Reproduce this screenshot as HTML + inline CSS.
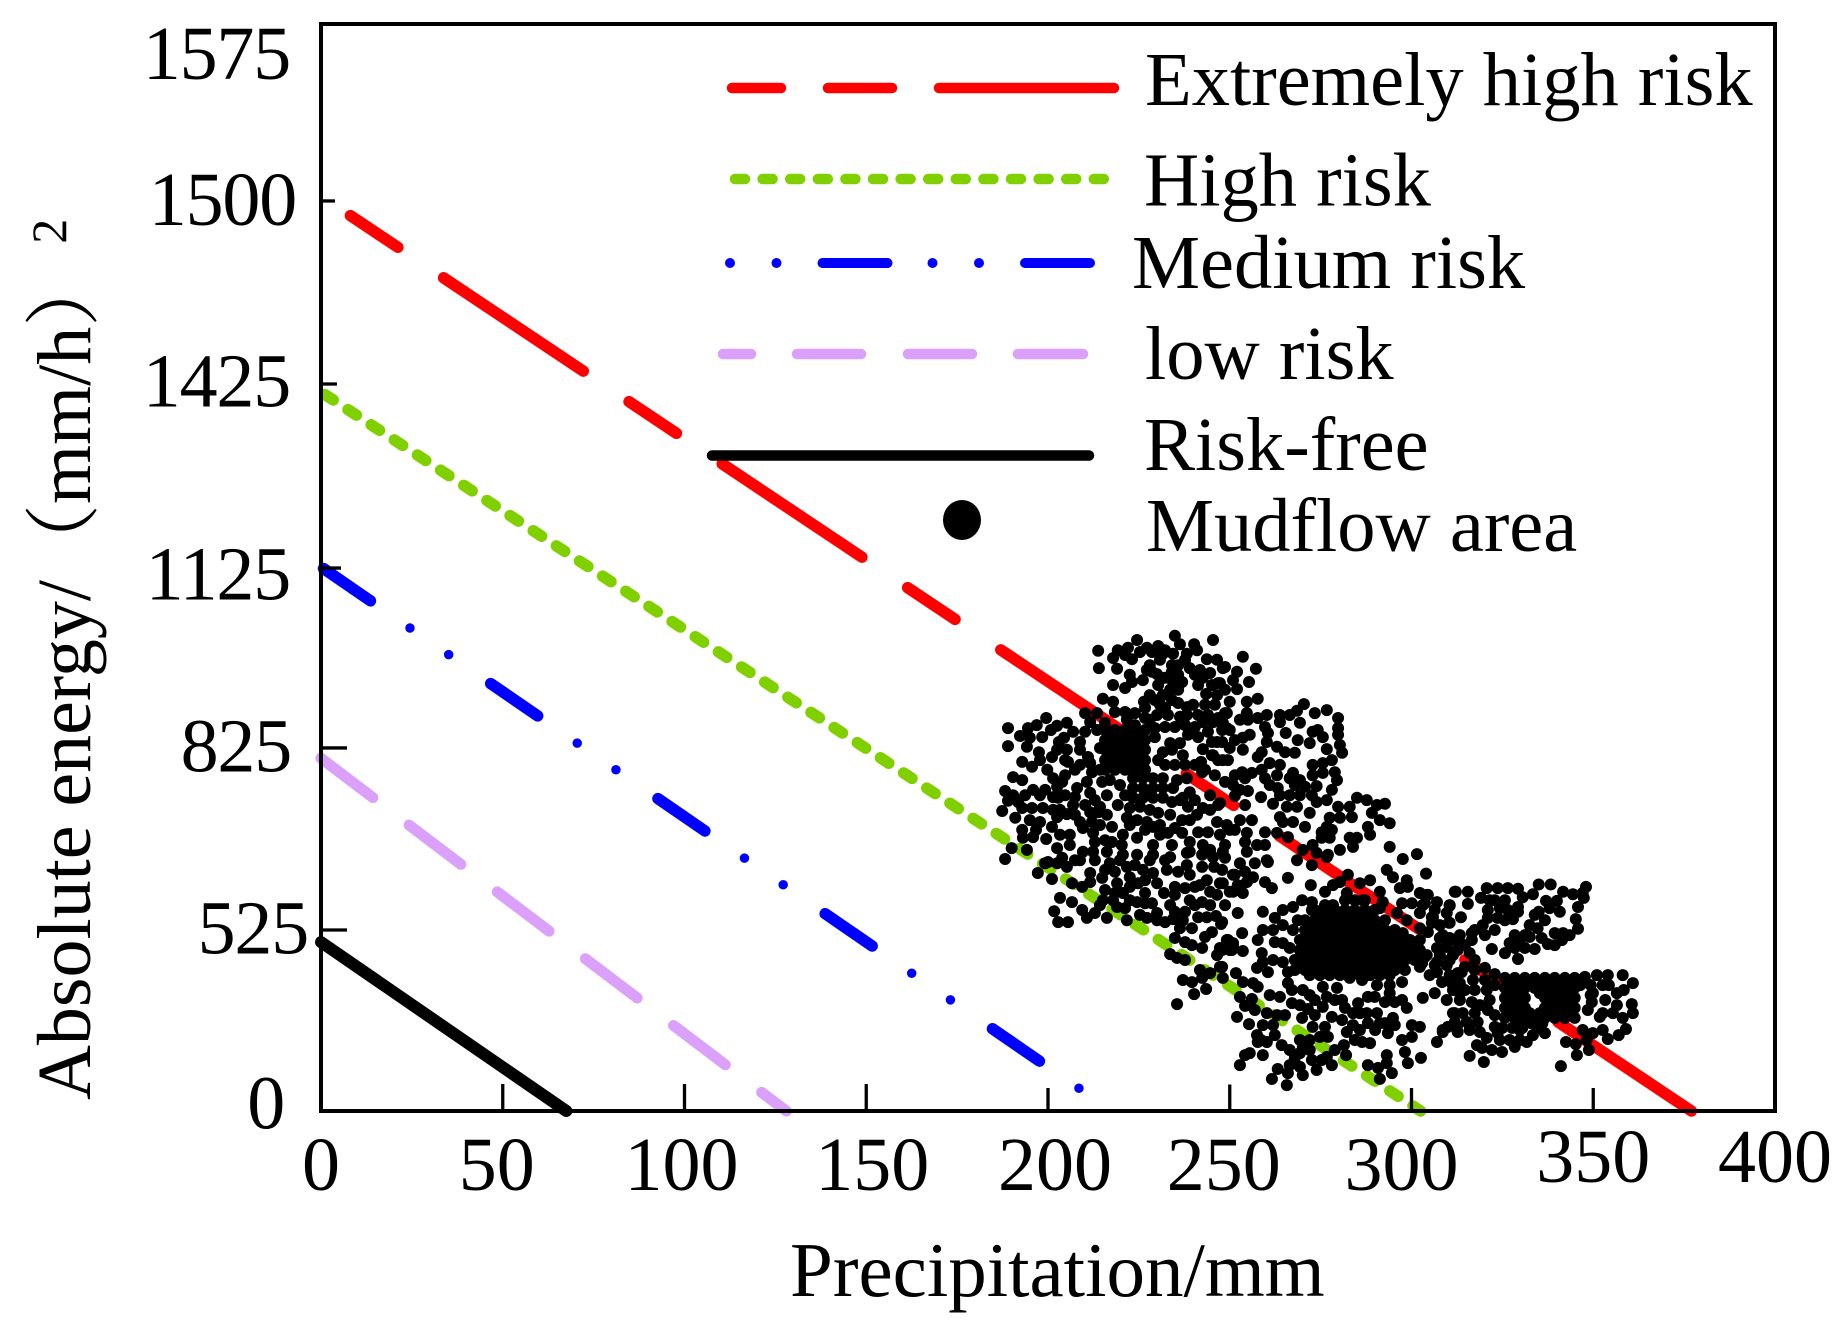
<!DOCTYPE html>
<html lang="en">
<head>
<meta charset="utf-8">
<title>Precipitation and absolute energy risk chart</title>
<style>
html,body{margin:0;padding:0;background:#fff;}
svg{display:block;}
text{font-family:"Liberation Serif","Noto Serif CJK SC",serif;fill:#000;}
</style>
</head>
<body>
<svg id="chart" xmlns="http://www.w3.org/2000/svg" width="1844" height="1338" viewBox="0 0 1844 1338">
  <rect x="0" y="0" width="1844" height="1338" fill="#fff"/>
  <g id="series-layer"></g>
  <g id="legend">
    <line x1="732" y1="88" x2="1114" y2="88" stroke="#ff0000" stroke-width="10.5" stroke-linecap="round" stroke-dasharray="49 47 64 47 175"/>
    <line x1="735" y1="179" x2="1105" y2="179" stroke="#80d000" stroke-width="10.5" stroke-linecap="round" stroke-dasharray="10 17.6"/>
    <line x1="730" y1="263" x2="1091" y2="263" stroke="#0000ff" stroke-width="10" stroke-linecap="round" stroke-dasharray="0 46.5 0 46 65 45"/>
    <line x1="723" y1="354" x2="1083" y2="354" stroke="#daa0fa" stroke-width="10.5" stroke-linecap="round" stroke-dasharray="28 46 64 47 64 46 65"/>
    <line x1="712" y1="455.5" x2="1089" y2="455.5" stroke="#000" stroke-width="10.5" stroke-linecap="round"/>
    <ellipse cx="962" cy="520" rx="19" ry="20" fill="#000"/>
    <text x="1145" y="105" font-size="76.5">Extremely high risk</text>
    <text x="1144" y="205.5" font-size="76.5">High risk</text>
    <text x="1132" y="288" font-size="76.5">Medium risk</text>
    <text x="1145" y="379" font-size="76.5">low risk</text>
    <text x="1144" y="470" font-size="76.5">Risk-free</text>
    <text x="1146" y="551" font-size="76.5">Mudflow area</text>
  </g>
  <g id="scatter-layer" fill="#000"></g>
  <g id="axis-layer">
    <rect x="321" y="24" width="1454" height="1087" fill="none" stroke="#000" stroke-width="4"/>
  </g>
  <text x="790" y="1296" font-size="77">Precipitation/mm</text>
  <text transform="translate(90,1100) rotate(-90)" font-size="76">Absolute energy/（mm/h）<tspan dx="7" dy="-24" font-size="50">2</tspan></text>
</svg>
<script>
const xTickValues = [0, 50, 100, 150, 200, 250, 300, 350, 400];
const yTickValues = [0, 525, 825, 1125, 1425, 1500, 1575];

const extremeRiskPrecip = [8.1, 377];
const extremeRiskEnergy = [1494, 0];
const highRiskPrecip = [0, 302.5];
const highRiskEnergy = [1412, 0];
const mediumRiskPrecip = [0, 217.6];
const mediumRiskEnergy = [1127, 0];
const lowRiskPrecip = [0, 128];
const lowRiskEnergy = [808, 0];
const riskFreePrecip = [0, 67.5];
const riskFreeEnergy = [490, 0];

const mudflowPoints = [
[213.8,987],[214,958],[217.9,975],[219.2,988],[222,992],[224.5,1005],[223.1,973],[219,957],[227.2,992],[230.3,995],[234.9,1012],[236.3,998],[240.2,998],[241,988],[245.4,1005],[231.6,982],[234.4,982],[238.2,982],[243.7,973],[246.5,972],
[228,963],[227.2,955],[234.1,963],[234.1,952],[230,948],[226.1,938],[222.5,947],[223.1,935],[217.9,930],[221.2,925],[230.3,930],[234.4,935],[236.9,935],[233.6,922],[231.6,913],[239,958],[241.8,955],[244.6,950],[248.1,958],[241.3,930],[242.6,942],[247.3,933],[246.5,913],[243.5,915],
[215.1,907],[217.9,902],[226.4,902],[229.4,905],[226.7,892],[235.8,900],[239.9,897],[238.2,893],[232.2,892],[233,880],[221.2,885],[221.7,872],[223.9,883],[226.7,875],[236.3,877],[238.2,880],[241.3,880],[210.2,883],[213.5,883],[211.6,868],[215.7,867],[232.2,860],[234.9,860],[228,872],[242.6,868],[245.4,868],[244,852],[248.7,883],[249.2,858],
[221.2,980],[225.3,985],[228.6,985],[232.2,988],[237.7,972],[235.8,963],[230.8,972],[228.6,952],[232.2,942],[235.8,947],[235.8,922],[240.4,947],[245.1,930],[248.7,922],[228,913],[230.8,897],[234.1,905],[243.2,897],[245.9,897],[244,880],[230,880],[223.9,863],[218.4,885],[229.4,858],[237.7,863],[240.4,860],[246.8,875],
[189,858],[194.5,858],[192.3,845],[196.9,863],[199.5,875],[202.5,862],[205.2,867],[198.4,843],[189,828],[194.2,827],[203,835],[202.5,822],[205.2,822],[197.5,818],[197.8,805],[201.1,810],[205.5,802],[192.9,802],[195.6,794],[206.9,852],[210.2,852],[213.5,855],[208.8,835],[208.8,822],[211,810],[211.6,800],
[200.8,855],[195,842],[204.4,842],[204.7,805],[199.8,789],[207.4,789],[208.8,797],[212.1,785],[203.9,769],[197.8,747],[193.7,747],[190.4,747],[204.7,747],[212.9,739],[214.3,728],[221.2,747],[219.8,764],[217,772],[203.3,723],[207.4,715],[211.6,719],[196.7,690],[203.3,682],[214.3,698],[215.7,673],[222.5,698],[226.7,690],[230.8,698],[230.8,682],[236.3,739],[240.4,739],[244.6,747],[244.6,723],[239,706],[233.6,715],[226.7,747],[228,723],[243.2,789],[245.9,780],[240.4,797],[237.7,797],[234.9,797],[232.2,797],[251.4,780],[252.8,756],[254.2,731],[252.8,706],[251.4,690],[248.7,665],[244.6,657],
[229.4,843],[233.6,833],[236.3,833],[238.5,847],[241.3,843],[231.6,818],[230.3,805],[237.1,813],[242.6,823],[246.5,835],[245.4,813],[248.1,805],[242.1,802],[242.4,785],[214.3,825],[214.3,789],[234.1,822],
[190.4,777],[192.9,772],[188.2,754],[201.4,775],[202.5,761],[204.7,780],[208,759],[207.4,744],[210.7,769],[214.9,769],[195.9,756],[199.2,756],[201.4,744],[211.6,751],[216.2,747],[189,738],[191.8,736],[202.8,743],[206.9,731],[210.2,731],[238.2,775],[235.5,772],[234.4,759],[237.1,743],[239,752],[238.5,728],[234.1,736],[247.3,734],[248.7,769],
[187.4,721],[191,710],[192.9,726],[195.6,726],[198.6,726],[201.4,723],[205.2,716],[202.5,711],[213.8,719],[216.2,715],[195,706],[197.8,703],[208.8,703],[212.1,703],[217.6,695],[219.2,731],[222.5,726],[225.3,728],[221.7,710],[224.5,706],[227.2,703],[230.3,718],[228.9,695],[242.6,726],[241,715],[236.9,706],[234.9,693],[246.5,703],[249.2,698],
[192.9,690],[193.1,677],[195.9,678],[201.1,695],[199.5,675],[206,682],[209.6,693],[212.4,685],[212.9,670],[220.6,682],[224.5,677],[217.6,670],[220.3,665],[233,685],[234.1,665],[236.9,685],[239,670],[241.3,686],[244,686],[247.3,682],[242.6,665],
[190,660],[194.2,657],[188.2,642],[202.5,660],[206,665],[209.6,654],[203.9,644],[200,637],[212.4,654],[216.2,654],[220.6,649],[224.5,649],[228.9,665],[228.9,649],[233.6,645],[239,654],[245.4,645],[248.1,654],
[215.7,855],[218.4,855],[221.2,855],[223.9,855],[226.7,855],[215.7,838],[218.4,838],[221.2,838],[223.9,838],[226.7,838],[215.7,822],[218.4,822],[221.2,822],[223.9,822],[226.7,822],[215.7,805],[218.4,805],[221.2,805],[223.9,805],[226.7,805],[215.7,789],[218.4,789],[221.2,789],[223.9,789],[226.7,789],
[217,847],[219.8,847],[222.5,847],[225.3,847],[217,830],[219.8,830],[222.5,830],[225.3,830],[217,813],[219.8,813],[222.5,813],[225.3,813],[217,797],[219.8,797],[222.5,797],[225.3,797],
[223.4,775],[226.1,775],[228.9,775],[231.6,775],[223.4,759],[226.1,759],[228.9,759],[231.6,759],[223.4,743],[226.1,743],[228.9,743],[231.6,743],
[253.6,977],[257.2,957],[248.7,960],[252,952],[250.9,938],[255.3,935],[252,923],[246.8,933],[257.7,907],[250,902],[254.7,902],[249.2,883],[248.1,867],[254.7,883],[252.8,872],[255,872],[250,855],[247.9,855],
[270.4,898],[260.2,880],[257.7,875],[259.7,860],[260.5,850],[263.8,880],[263.8,868],[266.5,880],[268.5,887],[273.4,883],[276.7,888],[279.8,875],[269.3,867],[265.4,850],[279.8,858],[279.8,847],[274.2,855],[275.6,843],[272.8,852],[268.7,838],[272,833],[255.5,847],[253.6,842],[280.3,830],[276.7,823],[280.9,817],[251.4,838],[250,825],[253.6,822],[260.2,835],[263,827],[265.2,818],[267.9,817],[258.8,818],[257.7,810],[245.1,835],[247.9,835],[245.1,813],[246.8,805],[249.5,805],
[278.1,805],[275.6,800],[272.8,797],[261,800],[263.8,797],[258.8,789],[259.7,775],[263,780],[253.4,785],[256.1,784],[254.2,775],[267.4,784],[266.5,775],[269.3,772],[272.8,780],[275.6,784],[278.9,785],[279.5,772],[278.1,756],
[250.9,764],[261,764],[263.2,759],[267.9,764],[270.7,761],[273.9,762],[255,754],[251.4,746],[258.6,744],[263.8,747],[266.5,747],[269.3,747],[272.6,747],[273.9,736],[276.7,739],[285,743],[287.7,739],[261.9,733],[246.8,731],[279.8,728],[283,728],[290.5,731],[292.7,733],[265.7,728],[268.5,728],[289.1,718],[272,718],[277.5,710],[280.3,710],[283.6,711],[263.8,711],[264.6,703],[267.4,703],[291.3,706],[294,701],[256.1,706],[276.7,695],[278.1,690],[270.7,695],[288,695],[288.6,682],[275.3,686],[283,677],[285,677],[283.9,662],[259.7,686],[263,685],[266,678],[254.7,685],[254.2,670],[254.7,654],[275.3,677],[277.5,677],[257.5,665],[259.7,665],[272.8,665],[270.1,657],[250,690],[280.3,657],[277,649],[294,662],[273.9,652],[268.5,640],[260.2,640],
[248.7,644],[252.8,635],[256.9,635],[260.5,637],[251.4,616],[254.2,621],[256.4,612],[266,611],[259.7,604],[261.6,594],[248.1,602],[250.9,588],[253.6,586],[272.3,599],[272.6,632],[276.7,645],[282.5,616],[280.3,604],[278.4,599],[276.2,588],[285.8,602],[288.6,607],[293.2,624],[294.9,612],[298.7,607],[299,596],[296.8,594],[304,618],[297.6,642],[301.5,650],[311.9,588],[302.3,586],[304.5,583],[307,571],[310.5,566],[252.2,553],[259.1,555],[269.9,574],[272.6,571],[272.6,558],[264.6,558],[267.4,563],[276.2,566],[278.4,566],[282.2,586],[286.6,574],[292.1,571],[291.3,588],[291.3,561],[297.4,569],[300.1,569],[303.1,566],[296,553],[298.7,541],[305.6,546],[310.5,537],[302.3,528],[304.5,519],[262.4,545],[264.6,533],[268.7,541],[297.6,516],[247.9,538],[259.1,525],[257.7,496],[261.9,525],[267.4,525],[253.4,516],[249.2,496],[250.9,487],[262.4,490],[264.6,487],[266.5,473],[308.6,510],[310.5,502],[247.9,467],[250.6,467],[253.6,464],[258.8,458],[259.1,432],[261.9,438],[264.6,432],[307,473],[309.7,476],[304.2,452],[307,432],[309.7,423],[257.5,415],[260.5,403],[266,403],[247.9,418],[248.1,386],[307,403],[302.3,418],[253.6,374],[256.4,371],[257.7,360],[266,371],[267.1,351],[283,386],[286.4,380],[297.4,374],[290.5,365],[294,365],[308.4,374],[311.1,371],[313.3,371],[270.1,351],[272,336],[275.6,360],[279.5,357],[261,336],[263.8,331],[267.1,313],[252.8,331],[256.1,325],[276.7,331],[278.9,322],[288,331],[289.9,331],[294,342],[292.7,316],[295.4,316],[297.4,322],[298.7,299],[303.1,328],[306.4,342],[309.7,322],[313.3,342],[254.2,305],[256.9,293],[271.5,296],[275.6,302],[280.9,322],[285.3,313],[283.9,284],[287.7,284],[290.5,284],[311.9,284],[260.2,284],[263,278],[265.2,278],[252,273],[278.1,273],[280.9,264],[283.9,249],[294.9,270],[292.7,255],[312.5,244],[255.3,252],[259.1,249],[261.9,249],[269.9,270],[272.8,244],[276.2,244],[288,255],[291.3,255],[300.1,249],[302.3,244],[282.2,229],[308.6,235],[293.5,226],[257.5,220],[260.2,200],[257.7,200],[300.1,215],[297.4,206],[272,206],[274.8,215],[277,215],[284.4,206],[288.6,197],[264.3,191],[307,200],[286.4,200],[270.1,186],[255.5,168],[259.1,162],[254.2,162],[269.3,168],[267.9,154],[272,177],[281.4,191],[282,162],[293.2,162],[298.2,171],[299,139],[302.6,154],[252.8,133],[276.7,157],[275.3,148],[278.1,133],[288,133],[290.8,125],[293.2,139],[266.5,133],[269.3,128],[263.2,122],[273.9,119],[294.6,110],[291.3,93],[266,110],[270.1,104],[261.6,93],[265.7,75],
[273.4,322],[281.7,299],[285.8,284],[269.3,307],[273.4,278],[258.6,206],[262.4,220],[266.5,177],[278.9,177],[269.3,206],[272.6,148],[290,235],[285.8,235],[295.4,249],
[281.7,574],[284.4,574],[287.2,574],[273.4,558],[276.2,558],[278.9,558],[281.7,558],[284.4,558],[287.2,558],[289.9,558],[270.7,541],[273.4,541],[276.2,541],[278.9,541],[281.7,541],[284.4,541],[287.2,541],[289.9,541],[292.7,541],
[270.7,525],[273.4,525],[276.2,525],[278.9,525],[281.7,525],[284.4,525],[287.2,525],[289.9,525],[292.7,525],[295.4,525],
[269.3,496],[272,496],[274.8,496],[277.5,496],[280.3,496],[283,496],[285.8,496],[288.6,496],[291.3,496],[294,496],[296.8,496],[299.6,496],[302.3,496],
[269.3,467],[272,467],[274.8,467],[277.5,467],[280.3,467],[283,467],[285.8,467],[288.6,467],[291.3,467],[294,467],[296.8,467],[299.6,467],[302.3,467],
[267.9,438],[270.7,438],[273.4,438],[276.2,438],[278.9,438],[281.7,438],[284.4,438],[287.2,438],[289.9,438],[292.7,438],[295.4,438],[298.2,438],[300.9,438],
[267.9,409],[270.7,409],[273.4,409],[276.2,409],[278.9,409],[281.7,409],[284.4,409],[287.2,409],[289.9,409],[292.7,409],[295.4,409],[298.2,409],
[275,550],[277.8,550],[280.5,550],[283.3,550],[286,550],[288.8,550],[272,533],[274.8,533],[277.5,533],[280.3,533],[283,533],[285.8,533],[288.6,533],[291.3,533],
[272,510],[274.8,510],[277.5,510],[280.3,510],[283,510],[285.8,510],[288.6,510],[291.3,510],[294,510],[270.7,481],[273.4,481],[276.2,481],[278.9,481],[281.7,481],[284.4,481],[287.2,481],[289.9,481],[292.7,481],[295.4,481],[298.2,481],[300.9,481],
[270.7,452],[273.4,452],[276.2,452],[278.9,452],[281.7,452],[284.4,452],[287.2,452],[289.9,452],[292.7,452],[295.4,452],[298.2,452],[300.9,452],[269.3,423],[272,423],[274.8,423],[277.5,423],[280.3,423],[283,423],[285.8,423],[288.6,423],[291.3,423],[294,423],[296.8,423],[272,394],[274.8,394],[277.5,394],[280.3,394],[283,394],[285.8,394],[288.6,394],[291.3,394],[294,394],
[312.2,588],[315.5,588],[320.7,594],[323.7,594],[326.5,594],[329.3,593],[335,600],[338.3,600],[348,596],[347.1,586],[341.7,588],[344.4,584],[333.4,584],[330.6,579],[319.1,578],[322.9,574],[325.7,574],[304.2,583],[303.7,569],[310.5,565],[315.5,568],[337,573],[340,573],[347.4,578],[345.8,563],[321,558],[321,545],[323.7,545],[329.3,563],[329.3,555],[335,555],[333.9,550],[340.8,555],[309.7,553],[313.6,546],[327.9,543],[302.3,553],[305.9,546],[305.6,537],[310.3,537],[345.2,543],[332.5,533],[334.7,528],[319.6,533],[322.9,525],[317.4,525],[345.8,527],[339.4,516],[341.7,516],[341.4,496],[313.3,510],[316.6,516],[316.6,496],[311.9,496],[313.3,487],[332.5,505],[335.8,502],[327,487],[329.8,496],[337.5,484],[328.4,473],[331.2,473],[333.9,470],[322.1,470],[312.7,467],[307.8,452],[311.4,452],[316,458],[317.4,438],[325.7,458],[329.3,441],[303.7,447],[302.9,429],[306.4,423],[314.7,418],[313.8,403],[312.7,400],
[307.8,533],[307.8,502],[306.4,558],[321.5,574],[324.3,561],[326.5,558],[325.7,541],[336.7,541],[338,561],[331.2,510],[328.4,510],[339.4,481],[343.5,510],[320.2,510],[314.7,481],[310.5,438],[305,394],[310.5,394],[317.4,409],[320.2,415],[322.9,365],[321.5,322],[318.8,307],[322.9,278],[349.3,336],[353.3,322],[346.4,365],[354.3,365],[358.4,351],[316,235],[318.8,229],[324.3,206],[329.8,206],
[347.7,389],[351,394],[354,394],[358.1,394],[360.9,371],[322.9,397],[316.9,380],[320.2,380],[311.4,351],[314.7,351],[317.4,351],[320.7,351],[313.3,322],[316.6,316],[349.9,342],[352.6,365],[356.5,342],[349.6,316],[348.5,293],[356.5,307],[360.6,310],[360.9,284],[352.6,284],[351.8,273],[355.4,284],[358.1,270],[311.4,284],[314.1,284],[317.4,284],[321,293],[311.9,258],[315.2,258],[318.2,258],[310,244],[308.6,229],[312.7,229],[322.9,244],[323.7,226],[327,206],[328.4,186],[320.7,212],[318,191],[319.4,183],[322.1,177],[324.9,171],[329.8,235],[331.7,200],[333.4,220],[336.7,226],[316,160],[319.9,142],[341.1,130],[345.5,162],[342.5,200],[345.2,194],[347.1,235],[349.9,226],[348.2,206],[352.6,235],[348.8,177],[354,209],[357,220],[359,238],
[325.7,386],[328.4,386],[331.2,386],[333.9,386],[336.7,386],[339.4,386],[342.2,386],[344.9,386],[325.7,357],[328.4,357],[331.2,357],[333.9,357],[336.7,357],[339.4,357],[342.2,357],[344.9,357],[325.7,328],[328.4,328],[331.2,328],[336.7,328],[339.4,328],[342.2,328],[344.9,328],[325.7,299],[328.4,299],[331.2,299],[336.7,299],[339.4,299],[342.2,299],[344.9,299],[325.7,270],[328.4,270],[331.2,270],[333.9,270],[336.7,270],[339.4,270],[342.2,270],[344.9,270],[330,255],[333,255],[336,255],[325,241],[327.7,241],[330.5,241],[334.6,241],[349.3,365],
[327,371],[329.8,371],[332.5,371],[335.3,371],[338,371],[340.8,371],[343.5,371],[327,342],[329.8,342],[335.3,342],[338,342],[340.8,342],[343.5,342],[327,313],[329.8,313],[338,313],[340.8,313],[343.5,313],[327,284],[329.8,284],[332.5,284],[335.3,284],[338,284],[340.8,284],[343.5,284],
[197.2,619],[201.1,609],[199.2,635],[202.5,635],[205.2,629],[208.8,640],[211.6,619],[206.6,602],[209.4,596],[211.6,604],[214.9,611],[217,635],[218.4,621],[219,602],[203.3,578],[206.6,571],[201.7,556],[202.8,538],[205.5,538],[209.4,558],[210.7,545],[212.9,553],[216.2,545],[215.1,574],[217.9,574],[219,563],[221.2,561],[221.7,541],[224.5,571],[226.7,569],[228.6,569],[225.3,550],[227.2,545],[230,553],[230,541],[232.2,538],[234.4,543],[222.5,596],[220.6,586],[224.8,602],[221.7,629],[222.5,612],[226.1,624],[228.9,619],[230,602],[231.9,586],[234.9,596],[234.9,583],[237.7,594],[240.4,596],[232.7,624],[238.2,632],[242.4,629],[245.7,629],[242.4,649],[238.2,652],[243.7,607],[247.3,602],[250.9,616],[254.7,604],[246.5,583],[250,588],[239,574],[237.7,555],[237.1,541],[242.4,571],[241.3,546],[243.7,546],[246.2,548],[247.6,535],[236.3,528],[239.6,528],[245.1,519],[243.2,505],[234.9,502],[237.7,490],[239.6,481],[242.4,473],[249.5,496],[250.9,481],[247.3,473],[246.5,452],[250,467],[233.6,455],[235.5,444],[237.7,438],[247.3,418],[241.8,409],[244.6,400],[242.4,386],[251.7,400],[237.1,380],[239.6,374],[243.5,354],[240.2,339],[235.5,310],[255.5,307],
[207.4,640],[212.9,640],[215.7,624],[219.8,640],[223.9,632],[226.7,607],[228,640],[232.2,640],[235.8,621],[239,616],[241.8,599],[244.6,588],[247.9,624],[252.2,599],[215.7,591],[218.4,586],[214.3,566],[222.5,574],[226.7,586],[233.6,566],[240.4,566],[234.9,555],[244.6,566],[248.7,566]
];

/* Axis layout (not data) */
const plotLeft = 321, plotRight = 1775, plotTop = 24, plotBottom = 1111;
const xMax = 400;
const yStopFractions = [0, 0.1665, 0.334, 0.4995, 0.6688, 0.8372, 1];

function xScale(v) {
  return plotLeft + (v / xMax) * (plotRight - plotLeft);
}
function yScale(v) {
  let i = 0;
  while (i < yTickValues.length - 2 && v > yTickValues[i + 1]) i++;
  const t = (v - yTickValues[i]) / (yTickValues[i + 1] - yTickValues[i]);
  const f = yStopFractions[i] + t * (yStopFractions[i + 1] - yStopFractions[i]);
  return plotBottom - f * (plotBottom - plotTop);
}

const SVG_NS = 'http://www.w3.org/2000/svg';
const seriesLayer = document.getElementById('series-layer');
const scatterLayer = document.getElementById('scatter-layer');
const axisLayer = document.getElementById('axis-layer');

function addRiskLine(name, xs, ys, color, width, dash, dashOffset) {
  const line = document.createElementNS(SVG_NS, 'line');
  
  
  line.setAttribute('x1', xScale(xs[0]));
  line.setAttribute('y1', yScale(ys[0]));
  line.setAttribute('x2', xScale(xs[1]));
  line.setAttribute('y2', yScale(ys[1]));
  line.setAttribute('stroke', color);
  line.setAttribute('stroke-width', width);
  line.setAttribute('stroke-linecap', 'round');
  if (dash) line.setAttribute('stroke-dasharray', dash);
  if (dashOffset) line.setAttribute('stroke-dashoffset', dashOffset);
  seriesLayer.appendChild(line);
}
addRiskLine('line-extremely-high-risk', extremeRiskPrecip, extremeRiskEnergy, '#ff0000', 11.5, '57 55 168 55', 0);
addRiskLine('line-high-risk', highRiskPrecip, highRiskEnergy, '#80d000', 11.5, '10 17.66', -4.6);
addRiskLine('line-medium-risk', mediumRiskPrecip, mediumRiskEnergy, '#0000ff', 11.5, '57 146', -3);
addRiskLine('line-medium-risk-dots', mediumRiskPrecip, mediumRiskEnergy, '#0000ff', 9.5, '0 47 0 156', -108);
addRiskLine('line-low-risk', lowRiskPrecip, lowRiskEnergy, '#daa0fa', 11, '65 45.6', 0);
addRiskLine('line-risk-free', riskFreePrecip, riskFreeEnergy, '#000', 12, '', 0);

mudflowPoints.forEach(function (p) {
  const dot = document.createElementNS(SVG_NS, 'circle');
  
  
  dot.setAttribute('cx', xScale(p[0]));
  dot.setAttribute('cy', yScale(p[1]));
  dot.setAttribute('r', 6);
  scatterLayer.appendChild(dot);
});

/* Hand-placed tick and label offsets seen in the figure */
const xTickLength = { 50: 27, 100: 27, 150: 27, 200: 23, 250: 26.5, 300: 23, 350: 23 };
const xLabelShift = { 0: 0, 50: -6, 100: -3, 150: 6, 200: 7, 250: -6, 300: -10, 350: 0, 400: 0 };
const xLabelBaseline = { 350: 1182, 400: 1182 };
const yTickLength = { 525: 26, 825: 26, 1125: 20, 1425: 16, 1500: 14 };
const yLabelRight = { 0: 284, 525: 308, 825: 291, 1125: 290, 1425: 290, 1500: 296, 1575: 290 };
const yLabelOffset = { 0: 17.5, 525: 23.6, 825: 23.4, 1125: 31.4, 1425: 22.6, 1500: 24, 1575: 55 };

xTickValues.forEach(function (v) {
  const x = xScale(v);
  if (xTickLength[v]) {
    const tick = document.createElementNS(SVG_NS, 'line');
    
    
    tick.setAttribute('x1', x);
    tick.setAttribute('x2', x);
    tick.setAttribute('y1', plotBottom);
    tick.setAttribute('y2', plotBottom - xTickLength[v]);
    tick.setAttribute('stroke', '#000');
    tick.setAttribute('stroke-width', 3.3);
    axisLayer.appendChild(tick);
  }
  const label = document.createElementNS(SVG_NS, 'text');
  
  
  label.setAttribute('x', x + xLabelShift[v]);
  label.setAttribute('y', xLabelBaseline[v] || 1190);
  label.setAttribute('font-size', 76);
  label.setAttribute('text-anchor', 'middle');
  label.textContent = String(v);
  axisLayer.appendChild(label);
});

yTickValues.forEach(function (v) {
  const y = yScale(v);
  if (yTickLength[v]) {
    const tick = document.createElementNS(SVG_NS, 'line');
    
    
    tick.setAttribute('x1', plotLeft);
    tick.setAttribute('x2', plotLeft + yTickLength[v]);
    tick.setAttribute('y1', y);
    tick.setAttribute('y2', y);
    tick.setAttribute('stroke', '#000');
    tick.setAttribute('stroke-width', 3.3);
    axisLayer.appendChild(tick);
  }
  const label = document.createElementNS(SVG_NS, 'text');
  
  
  label.setAttribute('x', yLabelRight[v]);
  label.setAttribute('y', y + yLabelOffset[v]);
  label.setAttribute('font-size', 76);
  label.setAttribute('letter-spacing', '-1.2');
  label.setAttribute('text-anchor', 'end');
  label.textContent = String(v);
  axisLayer.appendChild(label);
});
</script>
</body>
</html>
